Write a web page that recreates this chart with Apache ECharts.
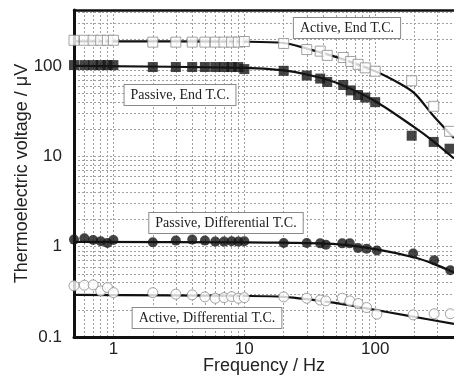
<!DOCTYPE html>
<html><head><meta charset="utf-8">
<script src="https://cdn.jsdelivr.net/npm/echarts@6/dist/echarts.min.js"></script>
<style>html,body{margin:0;padding:0;background:#fff}#c{width:454px;height:376px}</style>
</head><body><div id="c"></div>
<script>
// ---- data ----
const freqEnd = [0.5,0.6,0.7,0.8,0.9,1,2,3,4,5,6,7,8,9,10,20,30,38,43,57,65,74,84,100,190,280,370];
const activeEnd = [194,194,194,194,194,194,185,185,185,185,185,185,185,185,188,179,153,147,132,125,113,105,96,88,69,36,19];
const passiveEnd = [103,103,103,103,103,103,98,98,98,98,98,98,98,98,93,89,79,73,67,62,54,48,45,40,17,14.5,12.2];
const freqDiff = [0.5,0.6,0.7,0.8,0.9,1,2,3,4,5,6,7,8,9,10,20,30,38,42,56,64,74,86,103,195,282,375];
const passiveDiff = [1.20,1.24,1.19,1.15,1.10,1.19,1.12,1.17,1.20,1.17,1.14,1.14,1.15,1.14,1.15,1.10,1.10,1.09,1.05,1.09,1.09,0.97,0.95,0.91,0.84,0.71,0.55];
const activeDiff = [0.369,0.375,0.378,0.324,0.353,0.31,0.31,0.298,0.293,0.278,0.269,0.273,0.28,0.269,0.273,0.278,0.269,0.257,0.251,0.269,0.251,0.235,0.212,0.179,0.176,0.181,0.181];
// fitted curves
const fitActEndF = [0.5,10,20,30,50,100,155,200,277,400];
const fitActEndV = [189,187,181,157,127,88,64,50,28.5,16];
const fitPasEndF = [0.5,10,20,30,50,100,200,277,400];
const fitPasEndV = [101,96,90,81,66,41,21,14.8,9.5];
const fitPasDiffF = [0.5,10,20,50,100,200,277,400];
const fitPasDiffV = [1.13,1.12,1.11,1.07,0.94,0.76,0.65,0.52];
const fitActDiffF = [0.5,10,20,48,86,185,400];
const fitActDiffV = [0.293,0.285,0.278,0.24,0.208,0.17,0.14];
// axis / grid
const xMinor = [0.6,0.7,0.8,0.9,2,3,4,5,6,7,8,9,20,30,40,50,60,70,80,90,200,300];
const yMinor = [0.2,0.3,0.4,0.5,0.6,0.7,0.8,0.9,2,3,4,5,6,7,8,9,20,30,40,50,60,70,80,90,200,300,400];
const majorTicks = [0.1,1,10,100];
const labels = [
  {text:'Active, End T.C.', x:347, y:28},
  {text:'Passive, End T.C.', x:180, y:95},
  {text:'Passive, Differential T.C.', x:226, y:223},
  {text:'Active, Differential T.C.', x:207, y:318}
];

const zip = (a,b)=>a.map((v,i)=>[v,b[i]]);
const gridStyle = {color:'#a0a0a0', width:1, type:[2,2]};
const fmt = v => { const r = Math.round(v*1000)/1000; return majorTicks.includes(r) ? String(r) : ''; };

const chart = echarts.init(document.getElementById('c'), null, {renderer:'canvas'});
chart.setOption({
  animation:false,
  backgroundColor:'#fff',
  grid:{left:74, right:0, top:10, bottom:39, containLabel:false, outerBoundsMode:'none'},
  xAxis:[{
    type:'log', min:0.5, max:400, logBase:10,
    name:'Frequency / Hz', nameLocation:'middle', nameGap:20, nameMoveOverlap:false,
    nameTextStyle:{fontFamily:'Liberation Sans', fontSize:18, color:'#222'},
    axisLine:{show:true, lineStyle:{color:'#111', width:3}},
    axisTick:{show:false},
    axisLabel:{formatter:fmt, fontFamily:'Liberation Sans', fontSize:17, color:'#222', margin:4},
    splitLine:{show:true, lineStyle:gridStyle}
  },{
    type:'log', min:0.5, max:400, position:'top',
    axisLine:{show:true, lineStyle:{color:'#111', width:2.5}},
    axisTick:{show:false}, axisLabel:{show:false}, splitLine:{show:false}
  }],
  yAxis:{
    type:'log', min:0.1, max:420, logBase:10,
    name:'Thermoelectric voltage / μV', nameLocation:'middle', nameGap:43, nameMoveOverlap:false,
    nameTextStyle:{fontFamily:'Liberation Sans', fontSize:18, color:'#222'},
    axisLine:{show:true, lineStyle:{color:'#111', width:3}},
    axisTick:{show:false},
    axisLabel:{formatter:fmt, fontFamily:'Liberation Sans', fontSize:17, color:'#222', margin:12},
    splitLine:{show:true, lineStyle:gridStyle}
  },
  series:[
    {type:'line', data:[], silent:true, z:0, markLine:{silent:true, symbol:'none', label:{show:false},
      lineStyle:gridStyle, animation:false, z:0,
      data: xMinor.map(v=>({xAxis:v})).concat(yMinor.map(v=>({yAxis:v})))}},
    {type:'line', z:3, data:zip(fitActEndF,fitActEndV), smooth:0.3, showSymbol:false, lineStyle:{color:'#111', width:2.2}},
    {type:'line', z:3, data:zip(fitPasEndF,fitPasEndV), smooth:0.3, showSymbol:false, lineStyle:{color:'#111', width:2.2}},
    {type:'line', z:3, data:zip(fitPasDiffF,fitPasDiffV), smooth:0.3, showSymbol:false, lineStyle:{color:'#111', width:2.2}},
    {type:'line', z:3, data:zip(fitActDiffF,fitActDiffV), smooth:0.3, showSymbol:false, lineStyle:{color:'#111', width:2.2}},
    {type:'scatter', z:5, data:zip(freqEnd,activeEnd), symbol:'rect', symbolSize:10, itemStyle:{color:'#fff', borderColor:'#8a8a8a', borderWidth:1}},
    {type:'scatter', z:5, data:zip(freqEnd,passiveEnd), symbol:'rect', symbolSize:10, itemStyle:{color:'#151515'}},
    {type:'scatter', z:5, data:zip(freqDiff,passiveDiff), symbol:'circle', symbolSize:10, itemStyle:{color:'#151515'}},
    {type:'scatter', z:5, data:zip(freqDiff,activeDiff), symbol:'circle', symbolSize:10, itemStyle:{color:'#fff', borderColor:'#8a8a8a', borderWidth:1}}
  ],
  graphic: labels.map(l=>({
    type:'text', x:l.x, y:l.y, z:100,
    style:{text:l.text, font:'14px "Liberation Serif"', fill:'#222', align:'center', verticalAlign:'middle',
      backgroundColor:'#fff', borderColor:'#8a8a8a', borderWidth:1, padding:[3,6,3,6]}
  }))
});
</script></body></html>
